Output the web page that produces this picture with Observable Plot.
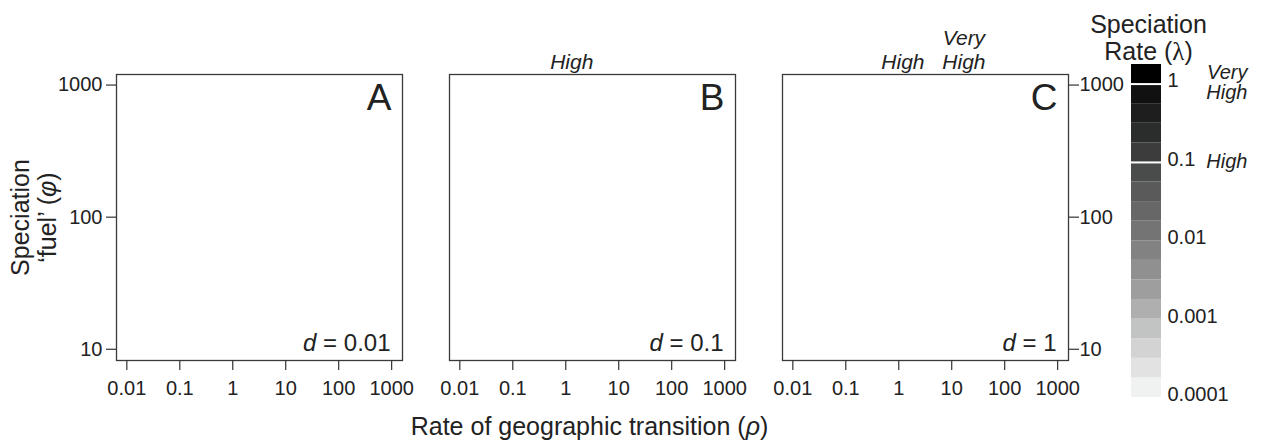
<!DOCTYPE html>
<html>
<head>
<meta charset="utf-8">
<script src="https://cdn.jsdelivr.net/npm/d3@7"></script>
<script src="https://cdn.jsdelivr.net/npm/@observablehq/plot@0.6"></script>
<style>
  html, body { margin: 0; padding: 0; background: white; overflow: hidden; }
  #wrap { position: relative; width: 1261px; height: 441px; }
  #wrap svg { position: absolute; left: 0; top: 0; max-width: none !important; }
</style>
</head>
<body>
<div id="wrap"></div>
<script>
// ---- data ----
const panels = ["A", "B", "C"];
const dLabels = ["*d* = 0.01", "*d* = 0.1", "*d* = 1"];
const rhoTicks = [0.01, 0.1, 1, 10, 100, 1000];
const rhoTickLabels = ["0.01", "0.1", "1", "10", "100", "1000"];
const phiTicks = [10, 100, 1000];
const phiTickLabels = ["10", "100", "1000"];
const annPanel = ["B", "C", "C"];
const annRho = [1.3, 1.2, 17];
const annText = ["High", "High", "Very\nHigh"];
const rateTicks = [1, 0.1, 0.01, 0.001, 0.0001];
const rateTickLabels = ["1", "0.1", "0.01", "0.001", "0.0001"];
// legend bands, lowest rate to highest (quarter-decade bins from 0.0001)
const bandGreys = ["#f0f1f1", "#e2e2e2", "#d3d3d3", "#c2c3c3", "#afafaf", "#9e9e9e",
  "#909090", "#828282", "#747474", "#676767", "#5a5a5a", "#4a4b4b", "#3c3c3c",
  "#2b2c2c", "#1e1e1e", "#111111", "#000000"];
const levelRates = [1, 0.1];
const levelNames = ["Very\nHigh", "High"];
const xTitle = "Rate of geographic transition (*ρ*)";
const yTitle = "Speciation\n‘fuel’ (*φ*)";
const legendTitle = "Speciation\nRate (~λ~)";

const FONT = "'Liberation Sans', Arial, Helvetica, sans-serif";
const INK = "#222";

function styleRuns(svg) {
  svg.querySelectorAll("text").forEach(t => {
    const spans = t.querySelectorAll("tspan");
    const targets = spans.length ? Array.from(spans) : [t];
    targets.forEach(node => {
      const s = node.textContent;
      if (!/[*~]/.test(s)) return;
      node.textContent = "";
      s.split(/(\*[^*]+\*|~[^~]+~)/g).forEach(part => {
        if (!part) return;
        if (part[0] === "*" || part[0] === "~") {
          const ts = document.createElementNS("http://www.w3.org/2000/svg", "tspan");
          if (part[0] === "*") ts.setAttribute("font-style", "italic");
          else ts.setAttribute("font-family", "'Liberation Serif', 'DejaVu Serif', serif");
          ts.textContent = part.slice(1, -1);
          node.appendChild(ts);
        } else {
          node.appendChild(document.createTextNode(part));
        }
      });
    });
  });
}

const main = Plot.plot({
  width: 1261,
  height: 441,
  marginLeft: 115.7,
  marginRight: 192.7,
  marginTop: 74,
  marginBottom: 81,
  style: { fontFamily: FONT, color: INK, background: "white" },
  fx: { domain: panels, paddingInner: 0.1424, paddingOuter: 0, axis: null, label: null },
  x: { type: "log", domain: [10 ** -2.195, 10 ** 3.205], label: null },
  y: { type: "log", domain: [10 ** 0.915, 10 ** 3.08], label: null },
  marks: [
    Plot.frame({ stroke: "#3a3a3a", strokeWidth: 1.3 }),
    Plot.axisX({ ticks: rhoTicks, tickFormat: d => rhoTickLabels[rhoTicks.indexOf(d)],
      tickSize: 10, tickPadding: 10, fontSize: 20, label: null, stroke: "#333", strokeWidth: 1.2 }),
    Plot.axisY({ anchor: "left", ticks: phiTicks, tickFormat: d => phiTickLabels[phiTicks.indexOf(d)],
      tickSize: 10, tickPadding: 4, fontSize: 20, label: null, stroke: "#333", strokeWidth: 1.2 }),
    Plot.axisY({ anchor: "right", ticks: phiTicks, tickFormat: d => phiTickLabels[phiTicks.indexOf(d)],
      tickSize: 10, tickPadding: 1, fontSize: 20, label: null, stroke: "#333", strokeWidth: 1.2 }),
    Plot.text(panels, { fx: d => d, text: d => d, frameAnchor: "top-right", textAnchor: "end",
      lineAnchor: "top", dx: -11, dy: 9, fontSize: 37, fill: INK }),
    Plot.text(panels, { fx: d => d, text: (d, i) => dLabels[i], frameAnchor: "bottom-right", textAnchor: "end",
      lineAnchor: "bottom", dx: -12, dy: -10, fontSize: 24, fill: INK }),
    Plot.text(annText, { fx: (d, i) => annPanel[i], x: (d, i) => annRho[i], text: d => d,
      frameAnchor: "top", lineAnchor: "bottom", textAnchor: "middle", dy: -6, fontSize: 21,
      fontStyle: "italic", lineHeight: 1.1, fill: INK }),
    Plot.text([xTitle], { fx: () => "B", text: d => d, frameAnchor: "bottom", textAnchor: "middle",
      lineAnchor: "bottom", dx: -3, dy: 74, fontSize: 25, fill: INK }),
    Plot.text([yTitle], { fx: () => "A", text: d => d, frameAnchor: "left", textAnchor: "middle",
      lineAnchor: "middle", rotate: -90, dx: -82.7, fontSize: 25, lineHeight: 1.07, fill: INK })
  ]
});

const legend = Plot.plot({
  width: 1261,
  height: 441,
  marginLeft: 1131,
  marginRight: 100,
  marginTop: 64,
  marginBottom: 44,
  style: { fontFamily: FONT, color: INK, background: "transparent" },
  x: { domain: [0, 1], axis: null },
  y: { type: "log", domain: [1e-4, 10 ** 0.25], axis: null },
  color: { type: "identity" },
  marks: [
    Plot.rect(bandGreys, { x1: 0, x2: 1, y1: (d, i) => 10 ** (-4 + i * 0.25),
      y2: (d, i) => 10 ** (-4 + (i + 1) * 0.25), fill: d => d }),
    Plot.ruleY(levelRates, { stroke: "white", strokeWidth: 2 }),
    Plot.text(rateTicks, { y: d => d, text: (d, i) => rateTickLabels[i], frameAnchor: "right",
      textAnchor: "start", dx: 6, dy: -3, fontSize: 20, fill: INK }),
    Plot.text(levelRates, { y: d => d, text: (d, i) => levelNames[i], frameAnchor: "right",
      textAnchor: "end", dx: 86, dy: -1, fontSize: 20, fontStyle: "italic", lineHeight: 1.0, fill: INK }),
    Plot.text([legendTitle], { text: d => d, frameAnchor: "top", textAnchor: "middle", lineAnchor: "bottom",
      dx: 2, dy: -5, fontSize: 25, lineHeight: 1.08, fill: INK })
  ]
});

styleRuns(main);
styleRuns(legend);
const wrap = document.getElementById("wrap");
wrap.appendChild(main);
wrap.appendChild(legend);
</script>
</body>
</html>
